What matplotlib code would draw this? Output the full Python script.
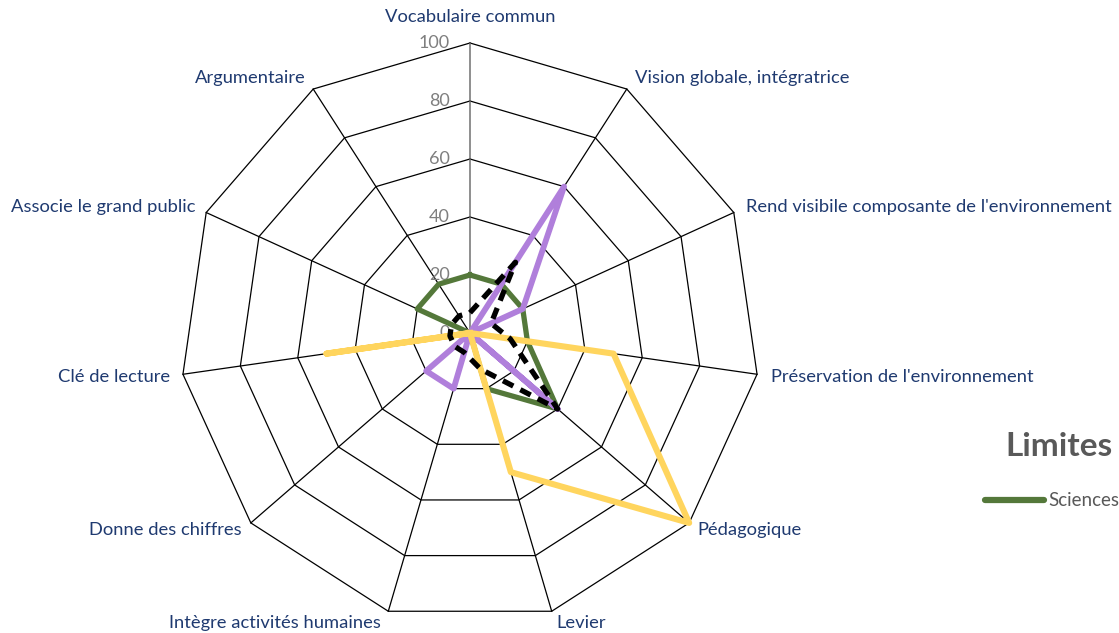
import numpy as np
import matplotlib
matplotlib.use("Agg")
import matplotlib.pyplot as plt

plt.rcParams['font.family'] = ['Lato', 'DejaVu Sans']

# Data
categories = ["Vocabulaire commun", "Vision globale, intégratrice",
              "Rend visibile composante de l'environnement",
              "Préservation de l'environnement", "Pédagogique", "Levier",
              "Intègre activités humaines", "Donne des chiffres",
              "Clé de lecture", "Associe le grand public", "Argumentaire"]
sciences = [20, 20, 20, 20, 40, 20, 0, 0, 0, 20, 20]
serie_violet = [0, 60, 20, 0, 40, 0, 20, 20, 0, 0, 0]
serie_jaune = [0, 0, 0, 50, 100, 50, 0, 0, 50, 0, 0]
serie_moyenne = [7, 29, 8, 14, 40, 13, 7, 7, 7, 7, 7]
rings = [0, 20, 40, 60, 80, 100]
legend_title = "Limites"
legend_label = "Sciences"

n = len(categories)
theta = np.linspace(0, 2 * np.pi, n, endpoint=False)

def closed(vals):
    return np.append(theta, theta[0]), np.append(vals, vals[0])

W, H = 1119, 633
fig = plt.figure(figsize=(W / 100, H / 100), dpi=100)
cx, cy, R = 470, 333, 290
ax = fig.add_axes([(cx - R) / W, (H - cy - R) / H, 2 * R / W, 2 * R / H], polar=True)
ax.set_theta_zero_location('N')
ax.set_theta_direction(-1)
ax.set_ylim(0, 100)
ax.grid(False)
ax.set_xticks([])
ax.set_yticks([])
ax.spines['polar'].set_visible(False)
ax.patch.set_visible(False)

# polygon grid
for r in rings[1:]:
    t, rr = closed(np.full(n, r))
    ax.plot(t, rr, color='black', lw=0.9, clip_on=False, zorder=1)
for i, t in enumerate(theta):
    ax.plot([t, t], [0, 100], color='#707070' if i == 0 else 'black',
            lw=1.1 if i == 0 else 0.9, clip_on=False, zorder=1)

# radial tick labels
for r in rings:
    ax.annotate(str(r), xy=(0, r), xytext=(-20, 0), textcoords='offset pixels',
                ha='right', va='center', fontsize=13, color='#7F7F7F')

# series
t, v = closed(sciences)
ax.plot(t, v, color='#54783A', lw=3.8, clip_on=False, zorder=3)
t, v = closed(serie_violet)
ax.plot(t, v, color='#B07FDB', lw=4.2, clip_on=False, zorder=4)
t, v = closed(serie_jaune)
ax.plot(t, v, color='#FFD55E', lw=4.4, clip_on=False, zorder=5)
t, v = closed(serie_moyenne)
ax.plot(t, v, color='black', lw=3.8, ls=(0, (2.2, 1.5)), clip_on=False, zorder=6)

# category labels
offsets = [(0, 26, 'center'), (8, 11, 'left'), (12, 6, 'left'), (14, -3, 'left'),
           (8, -7, 'left'), (5, -12, 'left'), (-7, -12, 'right'), (-9, -7, 'right'),
           (-13, -3, 'right'), (-11, 6, 'right'), (-8, 11, 'right')]
for t, lab, (dx, dy, ha) in zip(theta, categories, offsets):
    ax.annotate(lab, xy=(t, 100), xytext=(dx, dy), textcoords='offset pixels',
                ha=ha, va='center', fontsize=13.2, color='#1F3A70', annotation_clip=False)

# legend (cropped on the right in the original)
fig.text(1059 / W, 1 - 446 / H, legend_title, ha='center', va='center',
         fontsize=24, fontweight='bold', color='#595959')
fig.add_artist(plt.Line2D([985 / W, 1044 / W], [1 - 500 / H] * 2,
                          color='#54783A', lw=4.5, solid_capstyle='round'))
fig.text(1048 / W, 1 - 500 / H, legend_label, ha='left', va='center',
         fontsize=13.5, color='#595959')

fig.savefig("out.png", dpi=100)
